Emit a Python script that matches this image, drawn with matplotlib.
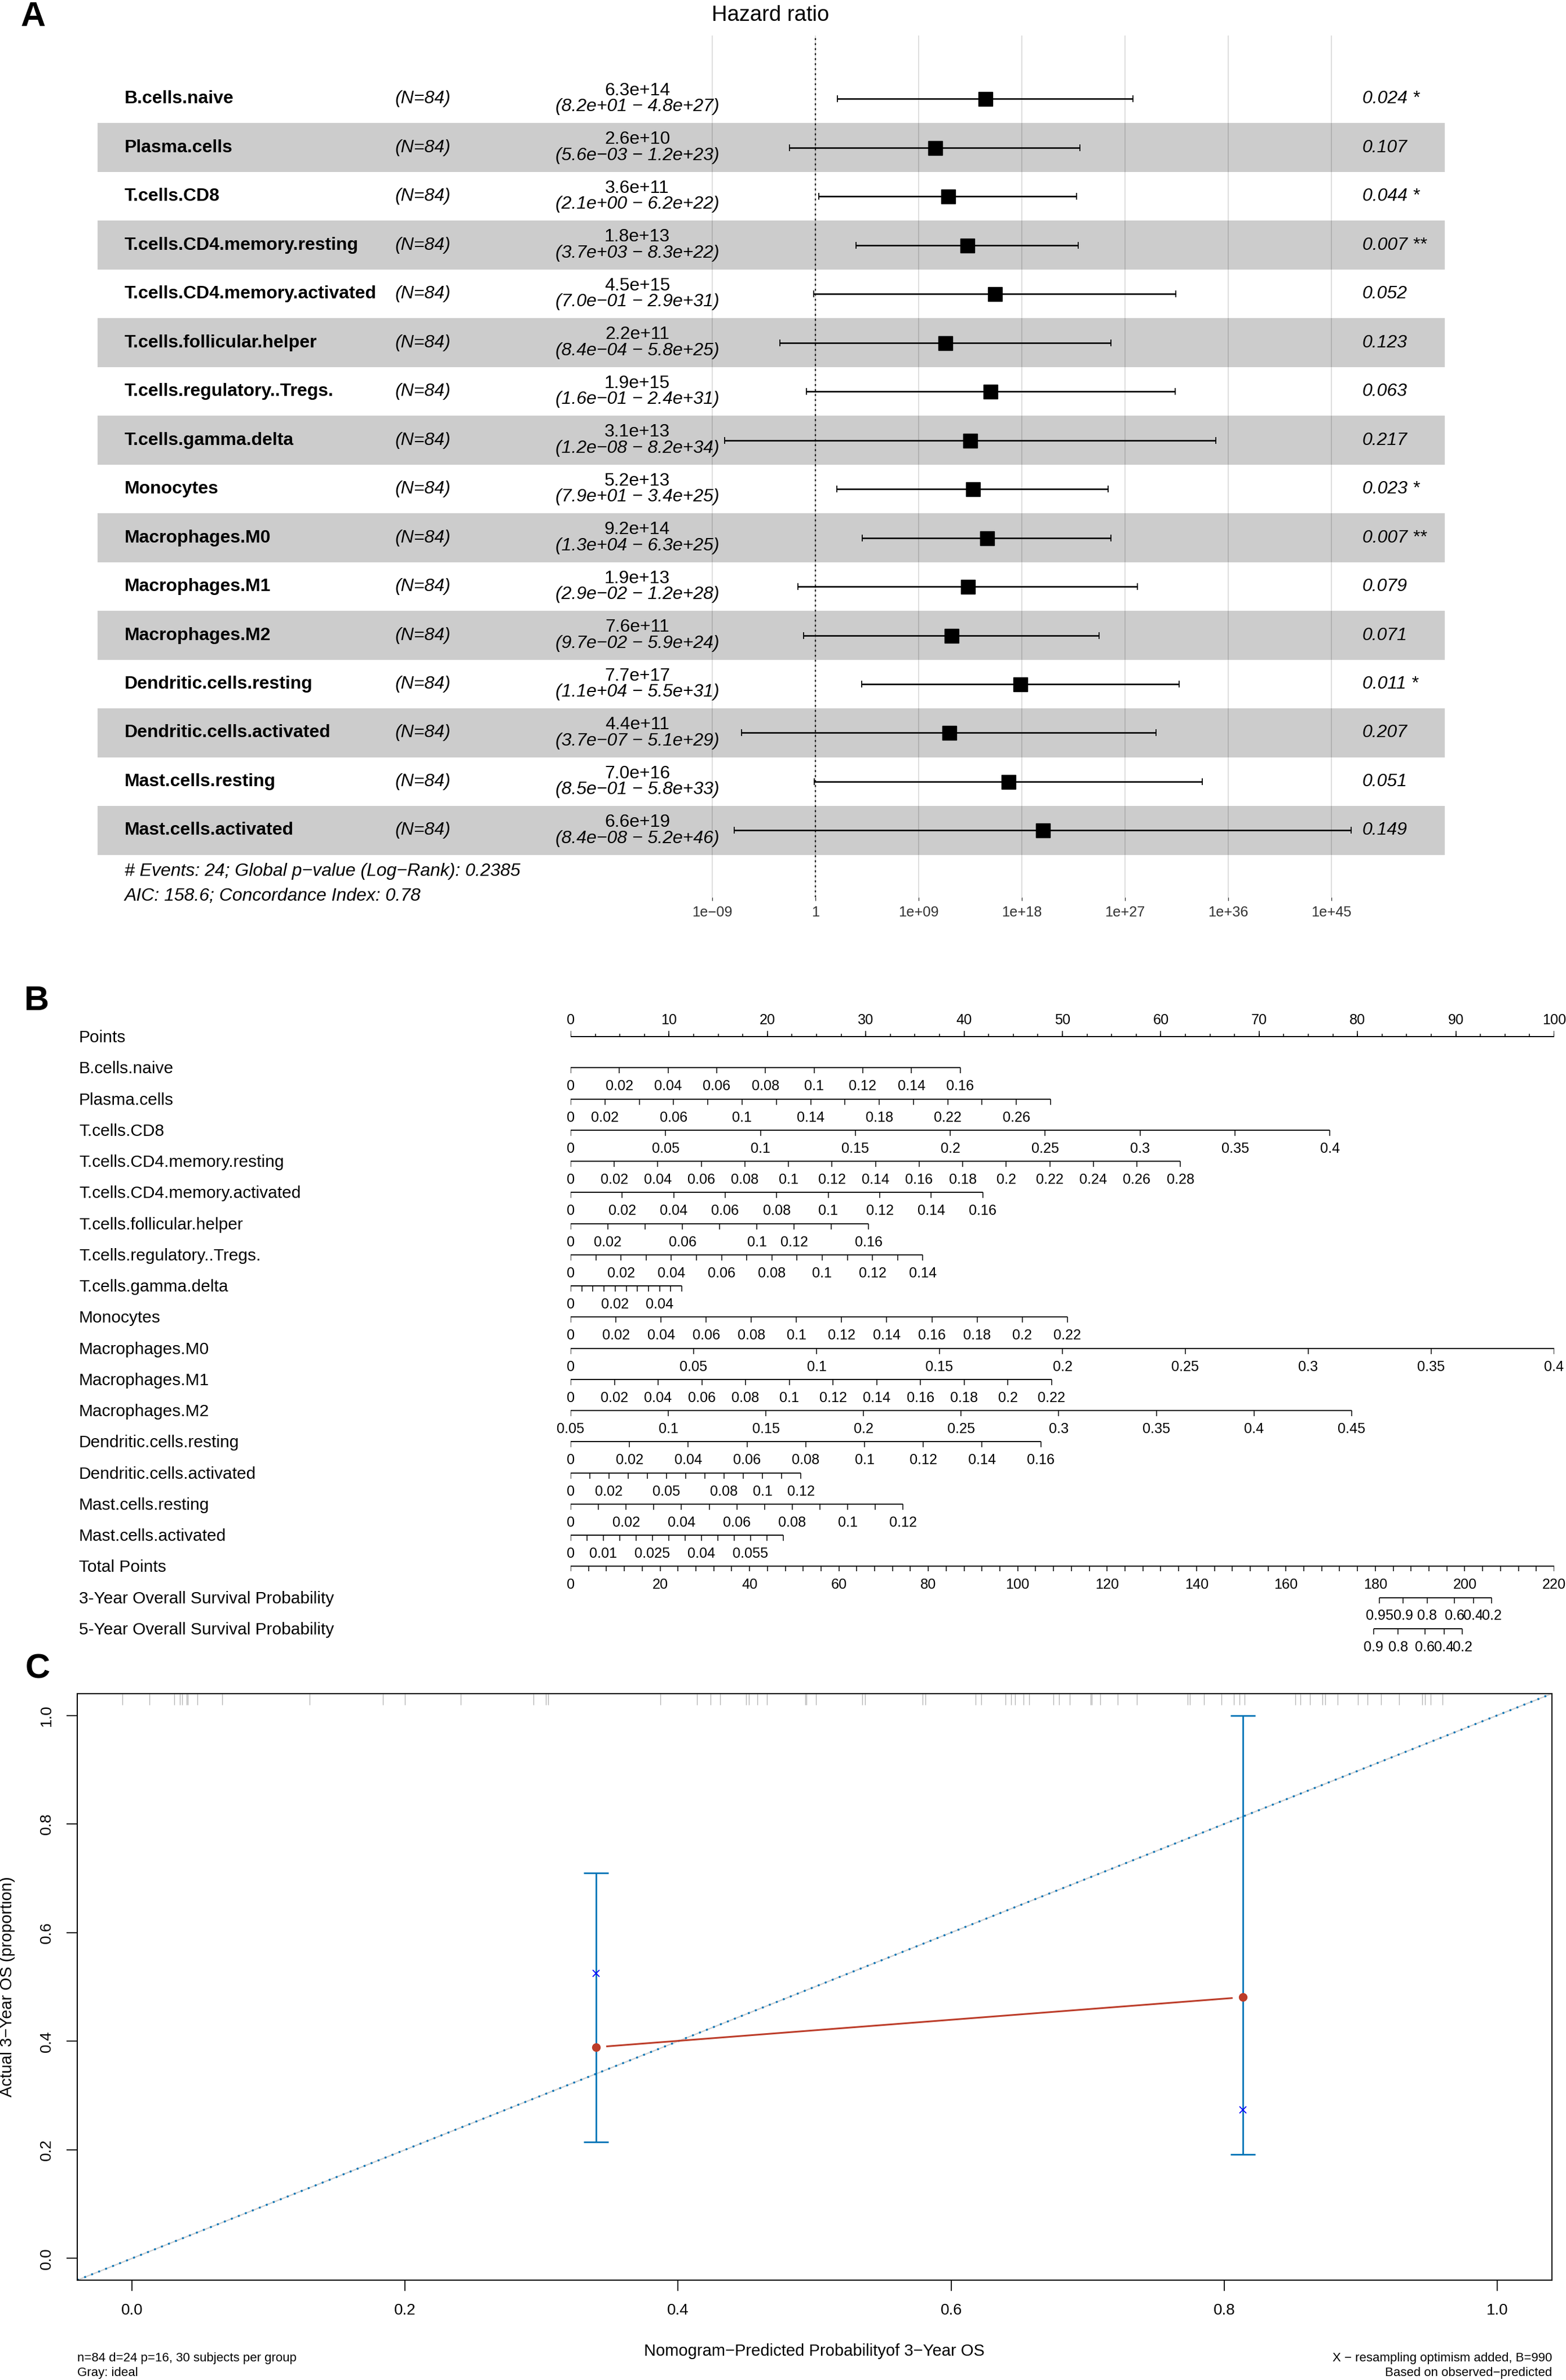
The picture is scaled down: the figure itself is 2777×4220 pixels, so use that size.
import matplotlib
matplotlib.use("Agg")
import matplotlib.pyplot as plt
import matplotlib.transforms as mtransforms
from matplotlib.ticker import NullLocator
import numpy as np

plt.rcParams['font.family'] = ['Liberation Sans', 'DejaVu Sans']

W, H = 2777, 4220
DPI = 100

# ---------------- data: panel A (forest plot) ----------------
cell_types = ['B.cells.naive', 'Plasma.cells', 'T.cells.CD8', 'T.cells.CD4.memory.resting',
              'T.cells.CD4.memory.activated', 'T.cells.follicular.helper',
              'T.cells.regulatory..Tregs.', 'T.cells.gamma.delta', 'Monocytes',
              'Macrophages.M0', 'Macrophages.M1', 'Macrophages.M2',
              'Dendritic.cells.resting', 'Dendritic.cells.activated',
              'Mast.cells.resting', 'Mast.cells.activated']
n_obs = [84, 84, 84, 84, 84, 84, 84, 84, 84, 84, 84, 84, 84, 84, 84, 84]
hr = np.array([6.3e14, 2.6e10, 3.6e11, 1.8e13, 4.5e15, 2.2e11, 1.9e15, 3.1e13,
               5.2e13, 9.2e14, 1.9e13, 7.6e11, 7.7e17, 4.4e11, 7.0e16, 6.6e19])
hr_lo = np.array([8.2e1, 5.6e-3, 2.1e0, 3.7e3, 7.0e-1, 8.4e-4, 1.6e-1, 1.2e-8,
                  7.9e1, 1.3e4, 2.9e-2, 9.7e-2, 1.1e4, 3.7e-7, 8.5e-1, 8.4e-8])
hr_hi = np.array([4.8e27, 1.2e23, 6.2e22, 8.3e22, 2.9e31, 5.8e25, 2.4e31, 8.2e34,
                  3.4e25, 6.3e25, 1.2e28, 5.9e24, 5.5e31, 5.1e29, 5.8e33, 5.2e46])
p_vals = ['0.024', '0.107', '0.044', '0.007', '0.052', '0.123', '0.063', '0.217',
          '0.023', '0.007', '0.079', '0.071', '0.011', '0.207', '0.051', '0.149']
p_stars = ['*', '', '*', '**', '', '', '', '', '*', '**', '', '', '*', '', '', '']
hr_ticks = [1e-9, 1, 1e9, 1e18, 1e27, 1e36, 1e45]
hr_tick_labels = ['1e\u221209', '1', '1e+09', '1e+18', '1e+27', '1e+36', '1e+45']
foot_1 = '# Events: 24; Global p\u2212value (Log\u2212Rank): 0.2385'
foot_2 = 'AIC: 158.6; Concordance Index: 0.78'

# ---------------- data: panel B (nomogram) ----------------
nomo_min = [0, 0, 0, 0, 0, 0, 0, 0, 0, 0, 0, 0.05, 0, 0, 0, 0]
nomo_max = [0.16, 0.28, 0.4, 0.28, 0.16, 0.16, 0.14, 0.05, 0.22, 0.4, 0.22, 0.45,
            0.16, 0.12, 0.12, 0.065]
nomo_step = [0.02, 0.02, 0.05, 0.02, 0.02, 0.02, 0.01, 0.005, 0.02, 0.05, 0.02, 0.05,
             0.02, 0.01, 0.01, 0.005]
nomo_pts_max = [39.6, 48.8, 77.2, 62.0, 41.9, 30.3, 35.8, 11.3, 50.5, 100.0, 48.9, 79.4,
                47.8, 23.4, 33.8, 21.6]
nomo_labels = [
    ['0', '0.02', '0.04', '0.06', '0.08', '0.1', '0.12', '0.14', '0.16'],
    ['0', '0.02', '0.06', '0.1', '0.14', '0.18', '0.22', '0.26'],
    ['0', '0.05', '0.1', '0.15', '0.2', '0.25', '0.3', '0.35', '0.4'],
    ['0', '0.02', '0.04', '0.06', '0.08', '0.1', '0.12', '0.14', '0.16', '0.18', '0.2',
     '0.22', '0.24', '0.26', '0.28'],
    ['0', '0.02', '0.04', '0.06', '0.08', '0.1', '0.12', '0.14', '0.16'],
    ['0', '0.02', '0.06', '0.1', '0.12', '0.16'],
    ['0', '0.02', '0.04', '0.06', '0.08', '0.1', '0.12', '0.14'],
    ['0', '0.02', '0.04'],
    ['0', '0.02', '0.04', '0.06', '0.08', '0.1', '0.12', '0.14', '0.16', '0.18', '0.2', '0.22'],
    ['0', '0.05', '0.1', '0.15', '0.2', '0.25', '0.3', '0.35', '0.4'],
    ['0', '0.02', '0.04', '0.06', '0.08', '0.1', '0.12', '0.14', '0.16', '0.18', '0.2', '0.22'],
    ['0.05', '0.1', '0.15', '0.2', '0.25', '0.3', '0.35', '0.4', '0.45'],
    ['0', '0.02', '0.04', '0.06', '0.08', '0.1', '0.12', '0.14', '0.16'],
    ['0', '0.02', '0.05', '0.08', '0.1', '0.12'],
    ['0', '0.02', '0.04', '0.06', '0.08', '0.1', '0.12'],
    ['0', '0.01', '0.025', '0.04', '0.055'],
]
total_max = 220
os3_prob = ['0.95', '0.9', '0.8', '0.6', '0.4', '0.2']
os3_total = [180.9, 186.2, 191.6, 197.7, 201.9, 206.0]
os5_prob = ['0.9', '0.8', '0.6', '0.4', '0.2']
os5_total = [179.6, 185.1, 191.1, 195.4, 199.5]

# ---------------- data: panel C (calibration) ----------------
cal_pred = np.array([0.340, 0.8136])
cal_obs = np.array([0.389, 0.481])
cal_corr = np.array([0.525, 0.274])
cal_lo = np.array([0.214, 0.192])
cal_hi = np.array([0.710, 1.000])
rug_pred = [-0.007, 0.013, 0.031, 0.035, 0.037, 0.040, 0.041, 0.048, 0.066, 0.130,
            0.184, 0.200, 0.241, 0.294, 0.303, 0.305, 0.387, 0.414, 0.424, 0.431,
            0.450, 0.452, 0.458, 0.465, 0.493, 0.494, 0.501, 0.535, 0.537, 0.579,
            0.581, 0.618, 0.622, 0.640, 0.644, 0.647, 0.653, 0.657, 0.675, 0.679,
            0.687, 0.702, 0.703, 0.709, 0.722, 0.736, 0.773, 0.775, 0.785, 0.798,
            0.807, 0.811, 0.815, 0.852, 0.856, 0.863, 0.872, 0.874, 0.883, 0.898,
            0.905, 0.915, 0.928, 0.945, 0.947, 0.951, 0.960]
cal_ticks = [0.0, 0.2, 0.4, 0.6, 0.8, 1.0]
cal_tick_labels = ['0.0', '0.2', '0.4', '0.6', '0.8', '1.0']

RED = '#BC3C29'
BLUE = '#0072B5'

fig = plt.figure(figsize=(W / DPI, H / DPI), dpi=DPI)


def px_axes(l, t, r, b):
    return fig.add_axes([l / W, 1 - b / H, (r - l) / W, (b - t) / H])


def ftext(x, y, s, **kw):
    return fig.text(x / W, 1 - y / H, s, **kw)


def sci(v):
    return f'{v:.1e}'.replace('-', '\u2212')


# ================= Panel A =================
A_L, A_T, A_R, A_B = 173, 63, 2562, 1591
axA = px_axes(A_L, A_T, A_R, A_B)
axA.set_xscale('log')
axA.set_xlim(10 ** -62.6, 10 ** 54.9)
axA.set_ylim(16.37, -1.295)
rows = np.arange(len(cell_types))

for t in hr_ticks:
    axA.axvline(t, color='#DEDEDE', lw=1.4, zorder=0)
for i in rows[1::2]:
    axA.axhspan(i - 0.5, i + 0.5, color='black', alpha=0.2, lw=0, zorder=1)
axA.axvline(1, color='black', ls=(0, (1.5, 2.5)), lw=1.6, zorder=2)
# confidence intervals with end caps
axA.hlines(rows, hr_lo, hr_hi, color='black', lw=1.9, zorder=3)
axA.plot(hr_lo, rows, '|', ms=9.2, mew=1.3, color='black', zorder=3)
axA.plot(hr_hi, rows, '|', ms=9.2, mew=1.3, color='black', zorder=3)
axA.plot(hr, rows, 's', ms=18, color='black', zorder=4)

for s in axA.spines.values():
    s.set_visible(False)
axA.set_xticks(hr_ticks)
axA.set_xticklabels(hr_tick_labels)
axA.xaxis.set_minor_locator(NullLocator())
axA.tick_params(axis='x', length=4.3, width=1.0, color='#333333', labelsize=18.3,
                labelcolor='#333333', pad=6.5)
axA.tick_params(axis='y', left=False, labelleft=False)

trA = mtransforms.blended_transform_factory(axA.transAxes, axA.transData)


def fxA(px):
    return (px - A_L) / (A_R - A_L)


for i, name in enumerate(cell_types):
    axA.text(fxA(221), i, name, transform=trA, ha='left', va='center',
             fontsize=23, fontweight='bold')
    axA.text(fxA(701), i, f'(N={n_obs[i]})', transform=trA, ha='left', va='center',
             fontsize=23, style='italic')
    axA.text(fxA(1130), i - 0.165, sci(hr[i]), transform=trA, ha='center', va='center',
             fontsize=23)
    axA.text(fxA(1130), i + 0.165, f'({sci(hr_lo[i])} \u2212 {sci(hr_hi[i])})',
             transform=trA, ha='center', va='center', fontsize=23, style='italic')
    axA.text(fxA(2416), i, f'{p_vals[i]} {p_stars[i]}'.strip(), transform=trA,
             ha='left', va='center', fontsize=23, style='italic')

axA.text(fxA(221), 15.84, foot_1, transform=trA, ha='left', va='center',
         fontsize=23, style='italic', clip_on=False)
axA.text(fxA(221), 16.35, foot_2, transform=trA, ha='left', va='center',
         fontsize=23, style='italic', clip_on=False)

ftext(1366, 27, 'Hazard ratio', ha='center', va='center', fontsize=27.5)

# ================= Panel B =================
B_L, B_T, B_R, B_B = 1012, 1760, 2756, 2920
ROW = 55.25
axB = px_axes(B_L, B_T, B_R, B_B)
axB.set_xlim(0, 100)
axB.set_ylim((B_B - 1838) / ROW, (B_T - 1838) / ROW)
axB.axis('off')
trB = mtransforms.blended_transform_factory(axB.transAxes, axB.transData)
LAB_X = (140 - B_L) / (B_R - B_L)
LW_AX = 1.4
LW_TK = 1.1
TICK = 10 / ROW
LAB_OFF = 33 / ROW
FS_VAR = 21.5
FS_TK = 18.2

# Points axis
axB.plot([0, 100], [0, 0], color='black', lw=LW_AX, solid_capstyle='butt')
axB.vlines(np.arange(0, 101, 10), 0, -TICK, color='black', lw=LW_TK)
axB.vlines(np.arange(0, 101, 2.5), 0, -4.6 / ROW, color='black', lw=LW_TK)
for v in np.arange(0, 101, 10):
    axB.text(v, -29 / ROW, f'{v:d}', ha='center', va='center', fontsize=FS_TK)
axB.text(LAB_X, 0.04, 'Points', transform=trB, ha='left', va='center', fontsize=FS_VAR)

for k, name in enumerate(cell_types):
    r = k + 1
    vmin, vmax, step = nomo_min[k], nomo_max[k], nomo_step[k]
    scale = nomo_pts_max[k] / (vmax - vmin)
    ticks = np.round(np.arange(vmin, vmax + step / 2, step), 5)
    xs = (ticks - vmin) * scale
    axB.plot([xs[0], xs[-1]], [r, r], color='black', lw=LW_AX, solid_capstyle='butt')
    axB.vlines(xs, r, r + TICK, color='black', lw=LW_TK)
    for lab in nomo_labels[k]:
        axB.text((float(lab) - vmin) * scale, r + LAB_OFF, lab, ha='center', va='center',
                 fontsize=FS_TK)
    axB.text(LAB_X, r + 0.04, name, transform=trB, ha='left', va='center', fontsize=FS_VAR)

# Total points
r = 17
tscale = 100 / total_max
tt = np.arange(0, total_max + 1, 4)
axB.plot([0, total_max * tscale], [r, r], color='black', lw=LW_AX, solid_capstyle='butt')
axB.vlines(tt * tscale, r, r + 8.4 / ROW, color='black', lw=LW_TK)
for v in np.arange(0, total_max + 1, 20):
    axB.text(v * tscale, r + LAB_OFF, f'{v:d}', ha='center', va='center', fontsize=FS_TK)
axB.text(LAB_X, r + 0.04, 'Total Points', transform=trB, ha='left', va='center',
         fontsize=FS_VAR)

for r, probs, tots, lab in [(18, os3_prob, os3_total, '3-Year Overall Survival Probability'),
                            (19, os5_prob, os5_total, '5-Year Overall Survival Probability')]:
    xs = np.array(tots) * tscale
    axB.plot([xs.min(), xs.max()], [r, r], color='black', lw=LW_AX, solid_capstyle='butt')
    axB.vlines(xs, r, r + TICK, color='black', lw=LW_TK)
    for x, p in zip(xs, probs):
        axB.text(x, r + LAB_OFF, p, ha='center', va='center', fontsize=FS_TK)
    axB.text(LAB_X, r + 0.04, lab, transform=trB, ha='left', va='center', fontsize=FS_VAR)

# ================= Panel C =================
C_L, C_T, C_R, C_B = 137, 3003, 2752, 4043
axC = px_axes(C_L, C_T, C_R, C_B)
lims = np.array([-0.04, 1.04])
axC.set_xlim(*lims)
axC.set_ylim(*lims)

axC.plot(lims, lims, color='#D0D0D0', lw=1.6, zorder=1)
axC.plot(lims, lims, color=BLUE, lw=2.4, ls=(0, (1, 3.0)), zorder=2)
axC.vlines(rug_pred, 1 - 20 / (C_B - C_T), 1, transform=axC.get_xaxis_transform(),
           color='#B4B4B4', lw=1.0, zorder=1)

# red observed line with gaps (type = "b")
g = 0.017
xa = cal_pred[0] + g * (cal_pred[1] - cal_pred[0])
xb = cal_pred[1] - g * (cal_pred[1] - cal_pred[0])
ya = cal_obs[0] + g * (cal_obs[1] - cal_obs[0])
yb = cal_obs[1] - g * (cal_obs[1] - cal_obs[0])
axC.plot([xa, xb], [ya, yb], color=RED, lw=2.2, zorder=3)
axC.errorbar(cal_pred, cal_obs, yerr=[cal_obs - cal_lo, cal_hi - cal_obs], fmt='none',
             ecolor=BLUE, elinewidth=2.0, capsize=16, capthick=2.0, zorder=4)
axC.plot(cal_pred, cal_obs, 'o', ms=10, color=RED, zorder=5)
axC.plot(cal_pred, cal_corr, 'x', ms=9, mew=1.3, color='blue', zorder=6)

for s in axC.spines.values():
    s.set_linewidth(1.5)
axC.set_xticks(cal_ticks)
axC.set_xticklabels(cal_tick_labels)
axC.set_yticks(cal_ticks)
axC.set_yticklabels(cal_tick_labels, rotation=90, va='center')
axC.tick_params(axis='both', length=13.5, width=1.3, labelsize=20, pad=16)

ftext(1444, 4169, 'Nomogram\u2212Predicted Probabilityof 3\u2212Year OS', ha='center',
      va='center', fontsize=21)
ftext(13, 3523, 'Actual 3\u2212Year OS (proportion)', ha='center', va='center',
      fontsize=21, rotation=90)
ftext(C_L, 4181, 'n=84 d=24 p=16, 30 subjects per group', ha='left', va='center', fontsize=16)
ftext(C_L, 4208, 'Gray: ideal', ha='left', va='center', fontsize=16)
ftext(C_R, 4181, 'X \u2212 resampling optimism added, B=990', ha='right', va='center',
      fontsize=16)
ftext(C_R, 4208, 'Based on observed\u2212predicted', ha='right', va='center', fontsize=16)

# panel letters
ftext(36, 46, 'A', fontsize=44, fontweight='bold', va='baseline')
ftext(43, 1791, 'B', fontsize=44, fontweight='bold', va='baseline')
ftext(45, 2975, 'C', fontsize=44, fontweight='bold', va='baseline')

fig.savefig('out.png', dpi=DPI)
